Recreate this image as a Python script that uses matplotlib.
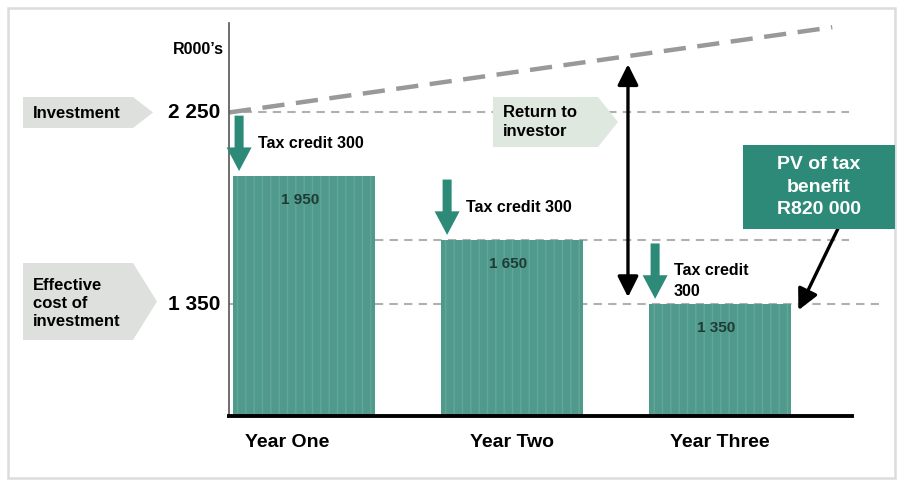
import matplotlib.pyplot as plt
import matplotlib as mpl
import numpy as np
from matplotlib.patches import Rectangle, Polygon

plt.rcParams['font.family'] = ['Liberation Sans', 'DejaVu Sans']
plt.rcParams['font.weight'] = 'bold'
plt.rcParams['hatch.linewidth'] = 1.0

# data (R000's)
years = ['Year One', 'Year Two', 'Year Three']
investment = 2250
tax_credit = [300, 300, 300]
cost = [1950, 1650, 1350]
bar_labels = ['1 950', '1 650', '1 350']
credit_labels = ['Tax credit 300', 'Tax credit 300', 'Tax credit\n300']
growth_x = [-0.36, 2.54]
growth_y = [2250, 2650]
pv_label = 'PV of tax\nbenefit\nR820 000'

TEAL = '#2e8a78'
BAR = '#4f9a8c'
STRIPE = '#62a699'
GRAY_LINE = '#b0b0b0'
BASE = 825

W, H = 899, 486
fig = plt.figure(figsize=(W / 100, H / 100), dpi=100)

def fx(px):
    return px / W

def fy(py):
    return 1 - py / H

# light frame round the whole picture
fig.patches.append(Rectangle((fx(8), fy(478)), fx(887), 470 / H, transform=fig.transFigure,
                             fill=False, edgecolor='#dcdcdc', linewidth=1.8))

ax = fig.add_axes([fx(229), fy(416), fx(852) - fx(229), (416 - 23) / H])
ax.set_xlim(-0.36, 2.635)
ax.set_ylim(BASE, 2670)
for s in ['top', 'right']:
    ax.spines[s].set_visible(False)
ax.spines['left'].set_color('#555555')
ax.spines['left'].set_linewidth(1.2)
ax.spines['bottom'].set_color('black')
ax.spines['bottom'].set_linewidth(2.8)
ax.set_xticks([])
ax.set_yticks([])

x = np.arange(len(years))
width = 0.683

# reference dashed levels
ax.plot([-0.36, 2.62], [investment] * 2, ls=(0, (4, 3)), color=GRAY_LINE, lw=1.5, zorder=1, clip_on=False)
ax.plot([x[0] + width / 2, 2.62], [cost[1]] * 2, ls=(0, (4, 3)), color=GRAY_LINE, lw=1.5, zorder=1, clip_on=False)
ax.plot([-0.36, 2.77], [cost[2]] * 2, ls=(0, (4, 3)), color=GRAY_LINE, lw=1.5, zorder=1, clip_on=False)

# rising return line
ax.plot(growth_x, growth_y, ls=(0, (5, 2.6)), color='#999999', lw=3.2, zorder=1, clip_on=False)

bars = ax.bar(x, np.array(cost) - BASE, width=width, bottom=BASE, color=BAR, edgecolor=STRIPE,
              linewidth=0, hatch='||', zorder=2)
for i, b in enumerate(bars):
    ax.text(x[i] - 0.02, cost[i] - 110, bar_labels[i], ha='center', va='center',
            fontsize=11, color='#1e3b35', zorder=4)
    ax.text(x[i] - (0.08 if i == 0 else 0.0), BASE - 125, years[i], ha='center', va='center',
            fontsize=14, clip_on=False)

# tax credit arrows
prev = [investment] + cost[:-1]
for i in range(len(cost)):
    ax_x = x[i] - width / 2 + 0.03
    top = prev[i] - 15
    bot = cost[i] + 25
    ax.annotate('', xy=(ax_x, bot), xytext=(ax_x, top),
                arrowprops=dict(width=6.5, headwidth=18, headlength=17, color=TEAL, lw=0),
                zorder=5, annotation_clip=False)
    ax.text(ax_x + 0.09, (top + bot) / 2 + (0 if i < 2 else -45), credit_labels[i],
            ha='left', va='center', fontsize=11.5, linespacing=1.5)

# return to investor double arrow
rx = 1.558
ry = np.interp(rx, growth_x, growth_y)
ax.annotate('', xy=(rx, ry - 25), xytext=(rx, cost[2] + 20),
            arrowprops=dict(arrowstyle='<|-|>,head_length=0.9,head_width=0.45',
                            color='black', lw=2.4, mutation_scale=14), annotation_clip=False)

# PV box
fig.patches.append(Rectangle((fx(743), fy(229)), fx(895) - fx(743), (229 - 145) / H,
                             transform=fig.transFigure, facecolor=TEAL, edgecolor='none'))
fig.text(fx(819), fy(187), pv_label, ha='center', va='center', color='white', fontsize=14,
         linespacing=1.4)
ax.annotate('', xy=(x[2] + width / 2 + 0.03, cost[2] - 40), xytext=(2.585, 1740),
            arrowprops=dict(arrowstyle='-|>,head_length=0.9,head_width=0.45',
                            color='black', lw=2.4, mutation_scale=14), annotation_clip=False)

# pentagon side labels
def tag(x0, y0, x1, y1, tip, fill):
    ym = (y0 + y1) / 2
    pts = [(fx(x0), fy(y0)), (fx(x1), fy(y0)), (fx(tip), fy(ym)), (fx(x1), fy(y1)), (fx(x0), fy(y1))]
    fig.patches.append(Polygon(pts, closed=True, transform=fig.transFigure,
                               facecolor=fill, edgecolor='none'))

tag(23, 97, 133, 128, 153, '#dde0dc')
fig.text(fx(33), fy(113), 'Investment', ha='left', va='center', fontsize=12)
tag(23, 263, 133, 340, 157, '#dde0dc')
fig.text(fx(33), fy(303), 'Effective\ncost of\ninvestment', ha='left', va='center', fontsize=12,
         linespacing=1.25)
tag(493, 97, 598, 147, 618, '#dfe8de')
fig.text(fx(503), fy(122), 'Return to\ninvestor', ha='left', va='center', fontsize=12,
         linespacing=1.3)

fig.text(fx(220), fy(113), '2 250', ha='right', va='center', fontsize=15)
fig.text(fx(220), fy(304), '1 350', ha='right', va='center', fontsize=15)
fig.text(fx(224), fy(50), "R000’s", ha='right', va='center', fontsize=11.5)

fig.savefig('out.png', dpi=100)
